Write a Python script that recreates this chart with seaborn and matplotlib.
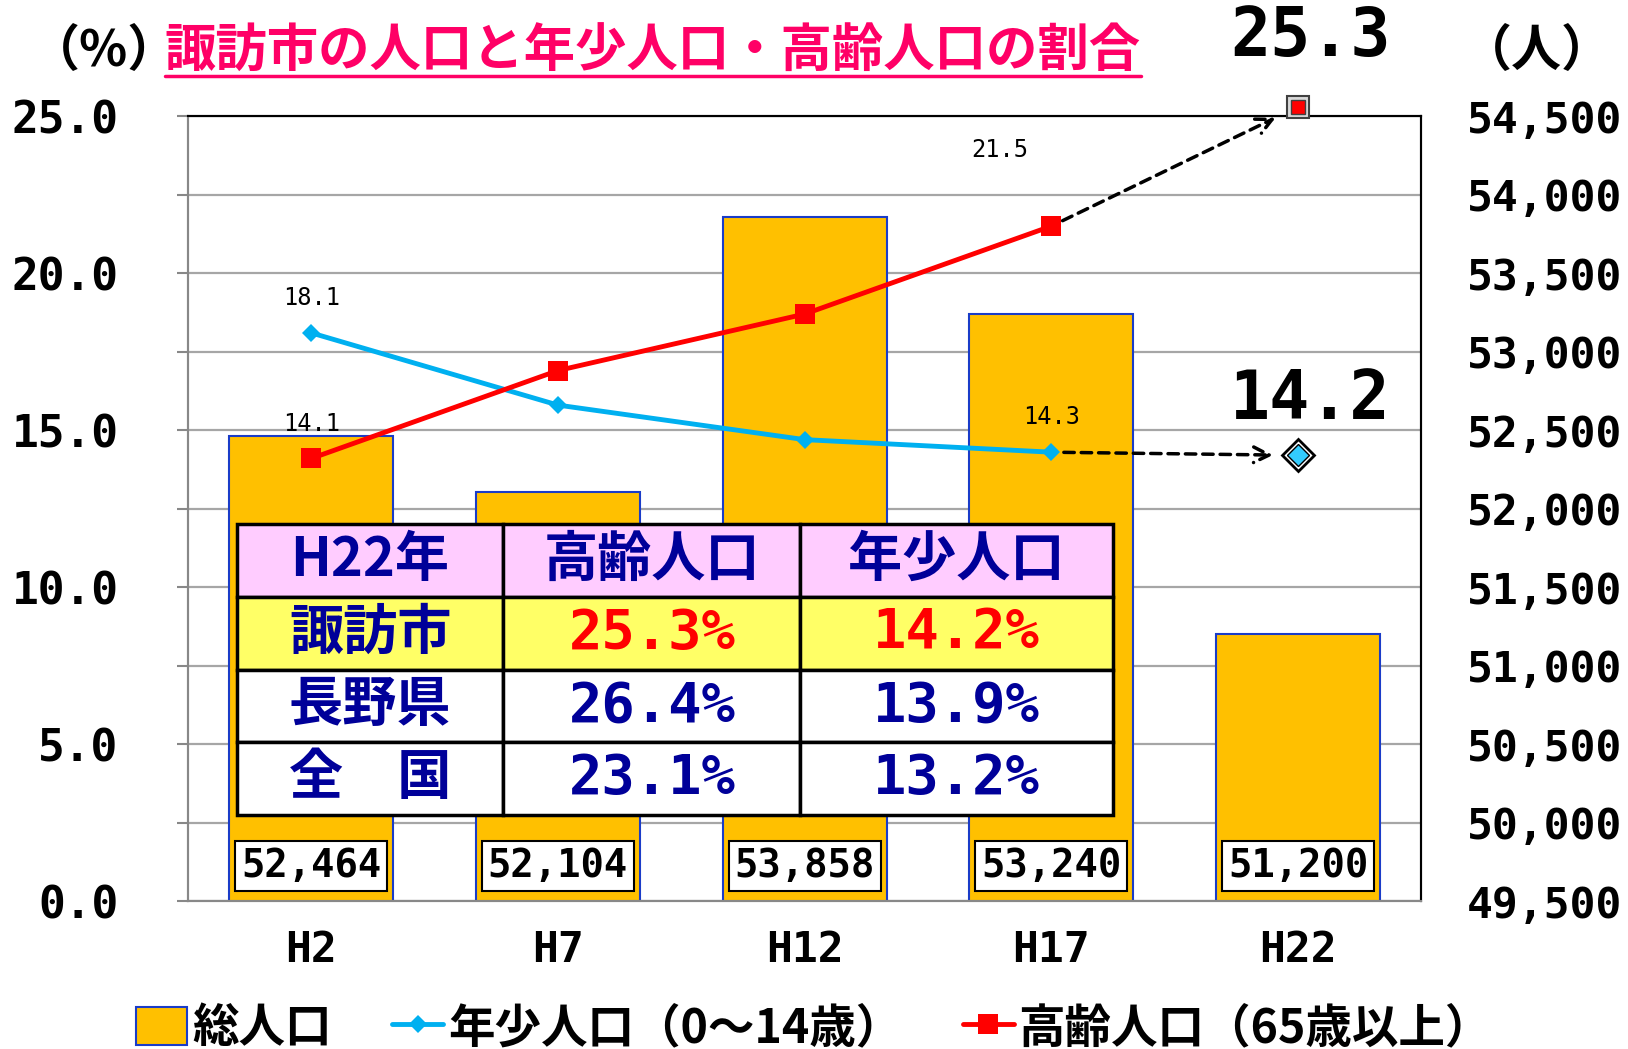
import numpy as np
import pandas as pd
import matplotlib
matplotlib.use('Agg')
import matplotlib.pyplot as plt
import matplotlib.transforms as mtransforms
from matplotlib.lines import Line2D
from matplotlib.ticker import FuncFormatter, MultipleLocator
import seaborn as sns

# データ
years = ['H2', 'H7', 'H12', 'H17', 'H22']
total_pop = [52464, 52104, 53858, 53240, 51200]
youth_rate = [18.1, 15.8, 14.7, 14.3]      # H2〜H17
elderly_rate = [14.1, 16.9, 18.7, 21.5]    # H2〜H17
youth_h22 = 14.2
elderly_h22 = 25.3

table_cols = ['H22年', '高齢人口', '年少人口']
table_rows = ['諏訪市', '長野県', '全　国']
table_elderly = ['25.3%', '26.4%', '23.1%']
table_youth = ['14.2%', '13.9%', '13.2%']

# 色・フォント
BAR = '#FFC000'
BLUE = '#00B0F0'
RED = '#FF0000'
NAVY = '#000099'
PINK = '#FF0066'
MONO = 'DejaVu Sans Mono'
GRAY = '#A6A6A6'

sns.set_style('white')
plt.rcParams['font.family'] = ['Noto Sans CJK JP', 'DejaVu Sans']
plt.rcParams['text.color'] = 'black'
plt.rcParams['xtick.color'] = 'black'
plt.rcParams['ytick.color'] = 'black'

fig = plt.figure(figsize=(16.28, 10.49), dpi=100)
ax_bar = fig.add_axes([0.1154, 0.1409, 0.7577, 0.7483])
ax_line = ax_bar.twinx()

# 総人口（棒）
df_pop = pd.DataFrame({'年': years, '総人口': total_pop})
sns.barplot(data=df_pop, x='年', y='総人口', ax=ax_bar, color=BAR, saturation=1,
            width=0.665, edgecolor='#1A3CC8', linewidth=1.5, label='総人口', zorder=2)

ax_bar.set_xlim(-0.5, len(years) - 0.5)
ax_bar.set_ylim(49500, 54500)
ax_bar.yaxis.set_major_locator(MultipleLocator(500))
ax_bar.yaxis.set_major_formatter(FuncFormatter(lambda v, p: f'{int(v):,}'))
ax_bar.yaxis.grid(True, color=GRAY, lw=1.6)
ax_bar.set_axisbelow(True)
ax_bar.yaxis.tick_right()
ax_bar.tick_params(axis='y', length=0, pad=33, labelsize=31, labelcolor='black')
ax_bar.tick_params(axis='x', length=0, pad=20, labelsize=31, labelcolor='black')
ax_bar.set_xlabel('')
ax_bar.set_ylabel('')

# 棒の数値ラベル
trans = mtransforms.blended_transform_factory(ax_bar.transData, ax_bar.transAxes)
for bar, v in zip(ax_bar.containers[0], total_pop):
    ax_bar.text(bar.get_x() + bar.get_width() / 2, 0.045, f'{v:,}', transform=trans,
                ha='center', va='center', fontsize=28, fontfamily=MONO, fontweight='bold',
                bbox=dict(boxstyle='square,pad=0.15', fc='white', ec='black', lw=1.5), zorder=5)

# 年少人口・高齢人口（折れ線）
df_rate = pd.DataFrame({'pos': np.arange(len(youth_rate)),
                        'youth': youth_rate, 'elderly': elderly_rate})
sns.lineplot(data=df_rate, x='pos', y='youth', ax=ax_line, color=BLUE, lw=3.5,
             marker='D', markersize=9.5, mec=BLUE, mew=0, label='年少人口（0～14歳）', zorder=4)
sns.lineplot(data=df_rate, x='pos', y='elderly', ax=ax_line, color=RED, lw=3.5,
             marker='s', markersize=14, mec=RED, mew=0, label='高齢人口（65歳以上）', zorder=4)

ax_line.set_ylim(0, 25)
ax_line.yaxis.tick_left()
ax_line.yaxis.set_major_locator(MultipleLocator(5))
ax_line.yaxis.set_minor_locator(MultipleLocator(2.5))
ax_line.yaxis.set_major_formatter(FuncFormatter(lambda v, p: f'{v:.1f}'))
ax_line.tick_params(axis='y', which='both', length=8, color='#888888', width=1.5)
ax_line.tick_params(axis='y', which='major', pad=42, labelsize=32, labelcolor='black')
ax_line.set_xlabel('')
ax_line.set_ylabel('')

# 点のラベル
label_spots = [('youth', 0, (0, 25)), ('youth', 3, (0, 25)),
               ('elderly', 0, (0, 25)), ('elderly', 3, (-37, 55))]
for col, i, off in label_spots:
    val = df_rate[col][i]
    ax_line.annotate(f'{val:.1f}', (df_rate['pos'][i], val), xytext=off,
                     textcoords='offset points', ha='center', va='center',
                     fontsize=17, fontfamily=MONO, zorder=6)

# H22 の値（矢印）
x17 = years.index('H17')
x22 = years.index('H22')
arrow_kw = dict(arrowstyle='->', lw=2.5, ls=(0, (3, 2)), color='black',
                shrinkA=9, shrinkB=18, mutation_scale=28)
ax_line.annotate('', xy=(x22, elderly_h22), xytext=(x17, elderly_rate[-1]),
                 arrowprops=arrow_kw, annotation_clip=False)
ax_line.annotate('', xy=(x22, youth_h22), xytext=(x17, youth_rate[-1]),
                 arrowprops=arrow_kw, annotation_clip=False)

ax_line.plot(x22, elderly_h22, marker='s', ms=16, mfc='#D9D9D9', mec='#404040', mew=1.5,
             clip_on=False, zorder=6)
ax_line.plot(x22, elderly_h22, marker='s', ms=10, mfc=RED, mec='#404040', mew=1,
             clip_on=False, zorder=7)
ax_line.plot(x22, youth_h22, marker='D', ms=16, mfc='white', mec='black', mew=2,
             clip_on=False, zorder=6)
ax_line.plot(x22, youth_h22, marker='D', ms=11, mfc='#33CCFF', mec='black', mew=1,
             clip_on=False, zorder=7)

ax_line.annotate(f'{elderly_h22:.1f}', (x22, elderly_h22), xytext=(9, 50),
                 textcoords='offset points', ha='center', va='center', fontsize=48,
                 fontfamily=MONO, fontweight='bold', annotation_clip=False)
ax_line.annotate(f'{youth_h22:.1f}', (x22, youth_h22), xytext=(9, 40),
                 textcoords='offset points', ha='center', va='center', fontsize=48,
                 fontfamily=MONO, fontweight='bold', annotation_clip=False)

# 表
cell_text = [table_cols] + [[r, e, y] for r, e, y in zip(table_rows, table_elderly, table_youth)]
colours = [['#FFCCFF'] * 3, ['#FFFF66'] * 3, ['white'] * 3, ['white'] * 3]
tbl = ax_bar.table(cellText=cell_text, cellColours=colours, cellLoc='center',
                   colWidths=[0.3045, 0.339, 0.357], bbox=[0.0396, 0.110, 0.7104, 0.370])
tbl.auto_set_font_size(False)
tbl.set_zorder(6)
for (r, c), cell in tbl.get_celld().items():
    cell.set_linewidth(2.5)
    cell.set_edgecolor('black')
    t = cell.get_text()
    t.set_fontweight('bold')
    if r == 0 or c == 0:
        t.set_fontsize(39)
        t.set_color(NAVY)
    else:
        t.set_fontfamily(MONO)
        t.set_fontsize(40)
        t.set_color(RED if r == 1 else NAVY)

# 枠線
for ax in (ax_bar, ax_line):
    ax.spines['left'].set_color('#888888')
    ax.spines['bottom'].set_color('#888888')
    ax.spines['top'].set_color('black')
    ax.spines['right'].set_color('black')
    for s in ax.spines.values():
        s.set_linewidth(1.5)

for lab in ax_bar.get_xticklabels() + ax_bar.get_yticklabels() + ax_line.get_yticklabels():
    lab.set_fontfamily(MONO)
    lab.set_fontweight('bold')

# 凡例
h1, l1 = ax_bar.get_legend_handles_labels()
h2, l2 = ax_line.get_legend_handles_labels()
for ax in (ax_bar, ax_line):
    if ax.get_legend() is not None:
        ax.get_legend().remove()
fig.legend(h1 + h2, l1 + l2, loc='center', bbox_to_anchor=(0.5, 0.02), ncol=3,
           frameon=False, prop={'size': 33.5, 'weight': 'bold'}, handlelength=1.1,
           handletextpad=0.1, columnspacing=1.3, handleheight=0.9)

# タイトル・単位
title = fig.text(0.401, 0.951, '諏訪市の人口と年少人口・高齢人口の割合', ha='center', va='center',
                 fontsize=37, fontweight='bold', color=PINK)
fig.text(0.064, 0.951, '（%）', ha='center', va='center', fontsize=36, fontweight='bold')
fig.text(0.944, 0.951, '（人）', ha='center', va='center', fontsize=36, fontweight='bold')

fig.canvas.draw()
bb = title.get_window_extent().transformed(fig.transFigure.inverted())
fig.add_artist(Line2D([bb.x0, bb.x1], [bb.y0 + 0.002, bb.y0 + 0.002], color=PINK, lw=2.5,
                      transform=fig.transFigure))

fig.savefig('out.png', dpi=100)
